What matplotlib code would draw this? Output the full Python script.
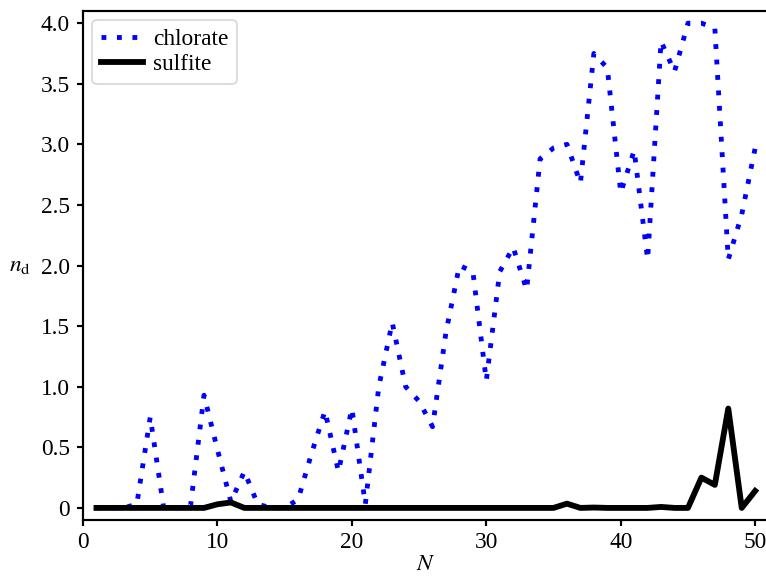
import numpy as np
import matplotlib
matplotlib.use("Agg")
import matplotlib.pyplot as plt

plt.rcParams['font.family'] = 'serif'
plt.rcParams['font.serif'] = ['Liberation Serif', 'DejaVu Serif']
plt.rcParams['mathtext.fontset'] = 'stix'
plt.rcParams['font.size'] = 14

# nombre N (1..50)
N = np.arange(1, 51)

# valeurs
chlorate = [0.0, 0.0, 0.0, 0.03, 0.75, 0.0, 0.0, 0.02, 0.93, 0.48,
            0.05, 0.3, 0.03, 0.0, 0.0, 0.07, 0.45, 0.8, 0.3, 0.82,
            0.03, 1.0, 1.53, 1.0, 0.88, 0.67, 1.45, 2.0, 1.95, 1.05,
            1.95, 2.15, 1.8, 2.88, 2.97, 3.0, 2.68, 3.75, 3.63, 2.6,
            2.95, 2.05, 3.85, 3.6, 4.0, 4.0, 3.96, 2.05, 2.42, 2.97]

sulfite = [0.0, 0.0, 0.0, 0.0, 0.0, 0.0, 0.0, 0.0, 0.0, 0.03,
           0.045, 0.0, 0.0, 0.0, 0.0, 0.0, 0.0, 0.0, 0.0, 0.0,
           0.0, 0.0, 0.0, 0.0, 0.0, 0.0, 0.0, 0.0, 0.0, 0.0,
           0.0, 0.0, 0.0, 0.0, 0.0, 0.035, 0.0, 0.003, 0.0, 0.0,
           0.0, 0.0, 0.008, 0.0, 0.0, 0.25, 0.19, 0.82, 0.0, 0.14]

fig = plt.figure(figsize=(766/120, 578/120), dpi=120)
ax = fig.add_axes([0.1084, 0.1003, 0.895, 0.8806])

ax.plot(N, chlorate, color='blue', lw=2.9, linestyle=(0, (1, 2.2)), label='chlorate')
ax.plot(N, sulfite, color='black', lw=3.5, label='sulfite')

ax.set_xlim(0, 51)
ax.set_ylim(-0.1, 4.1)
ax.set_xticks([0, 10, 20, 30, 40, 50])
ax.set_yticks([0, 0.5, 1.0, 1.5, 2.0, 2.5, 3.0, 3.5, 4.0])
ax.set_yticklabels(['0', '0.5', '1.0', '1.5', '2.0', '2.5', '3.0', '3.5', '4.0'])
for s in ax.spines.values():
    s.set_linewidth(1.3)
ax.tick_params(width=1.3, length=3.5)
ax.tick_params(axis='y', pad=4.5)

ax.set_xlabel('$N$', labelpad=1)
ax.set_ylabel(r'$n_\mathrm{d}$', rotation=0, va='center', ha='center')
ax.yaxis.set_label_coords(-0.092, 0.5)

ax.legend(loc='upper left', handlelength=1.8, borderaxespad=0.4,
          handletextpad=0.45, labelspacing=0.18, borderpad=0.35)

fig.savefig('out.png', dpi=120)
